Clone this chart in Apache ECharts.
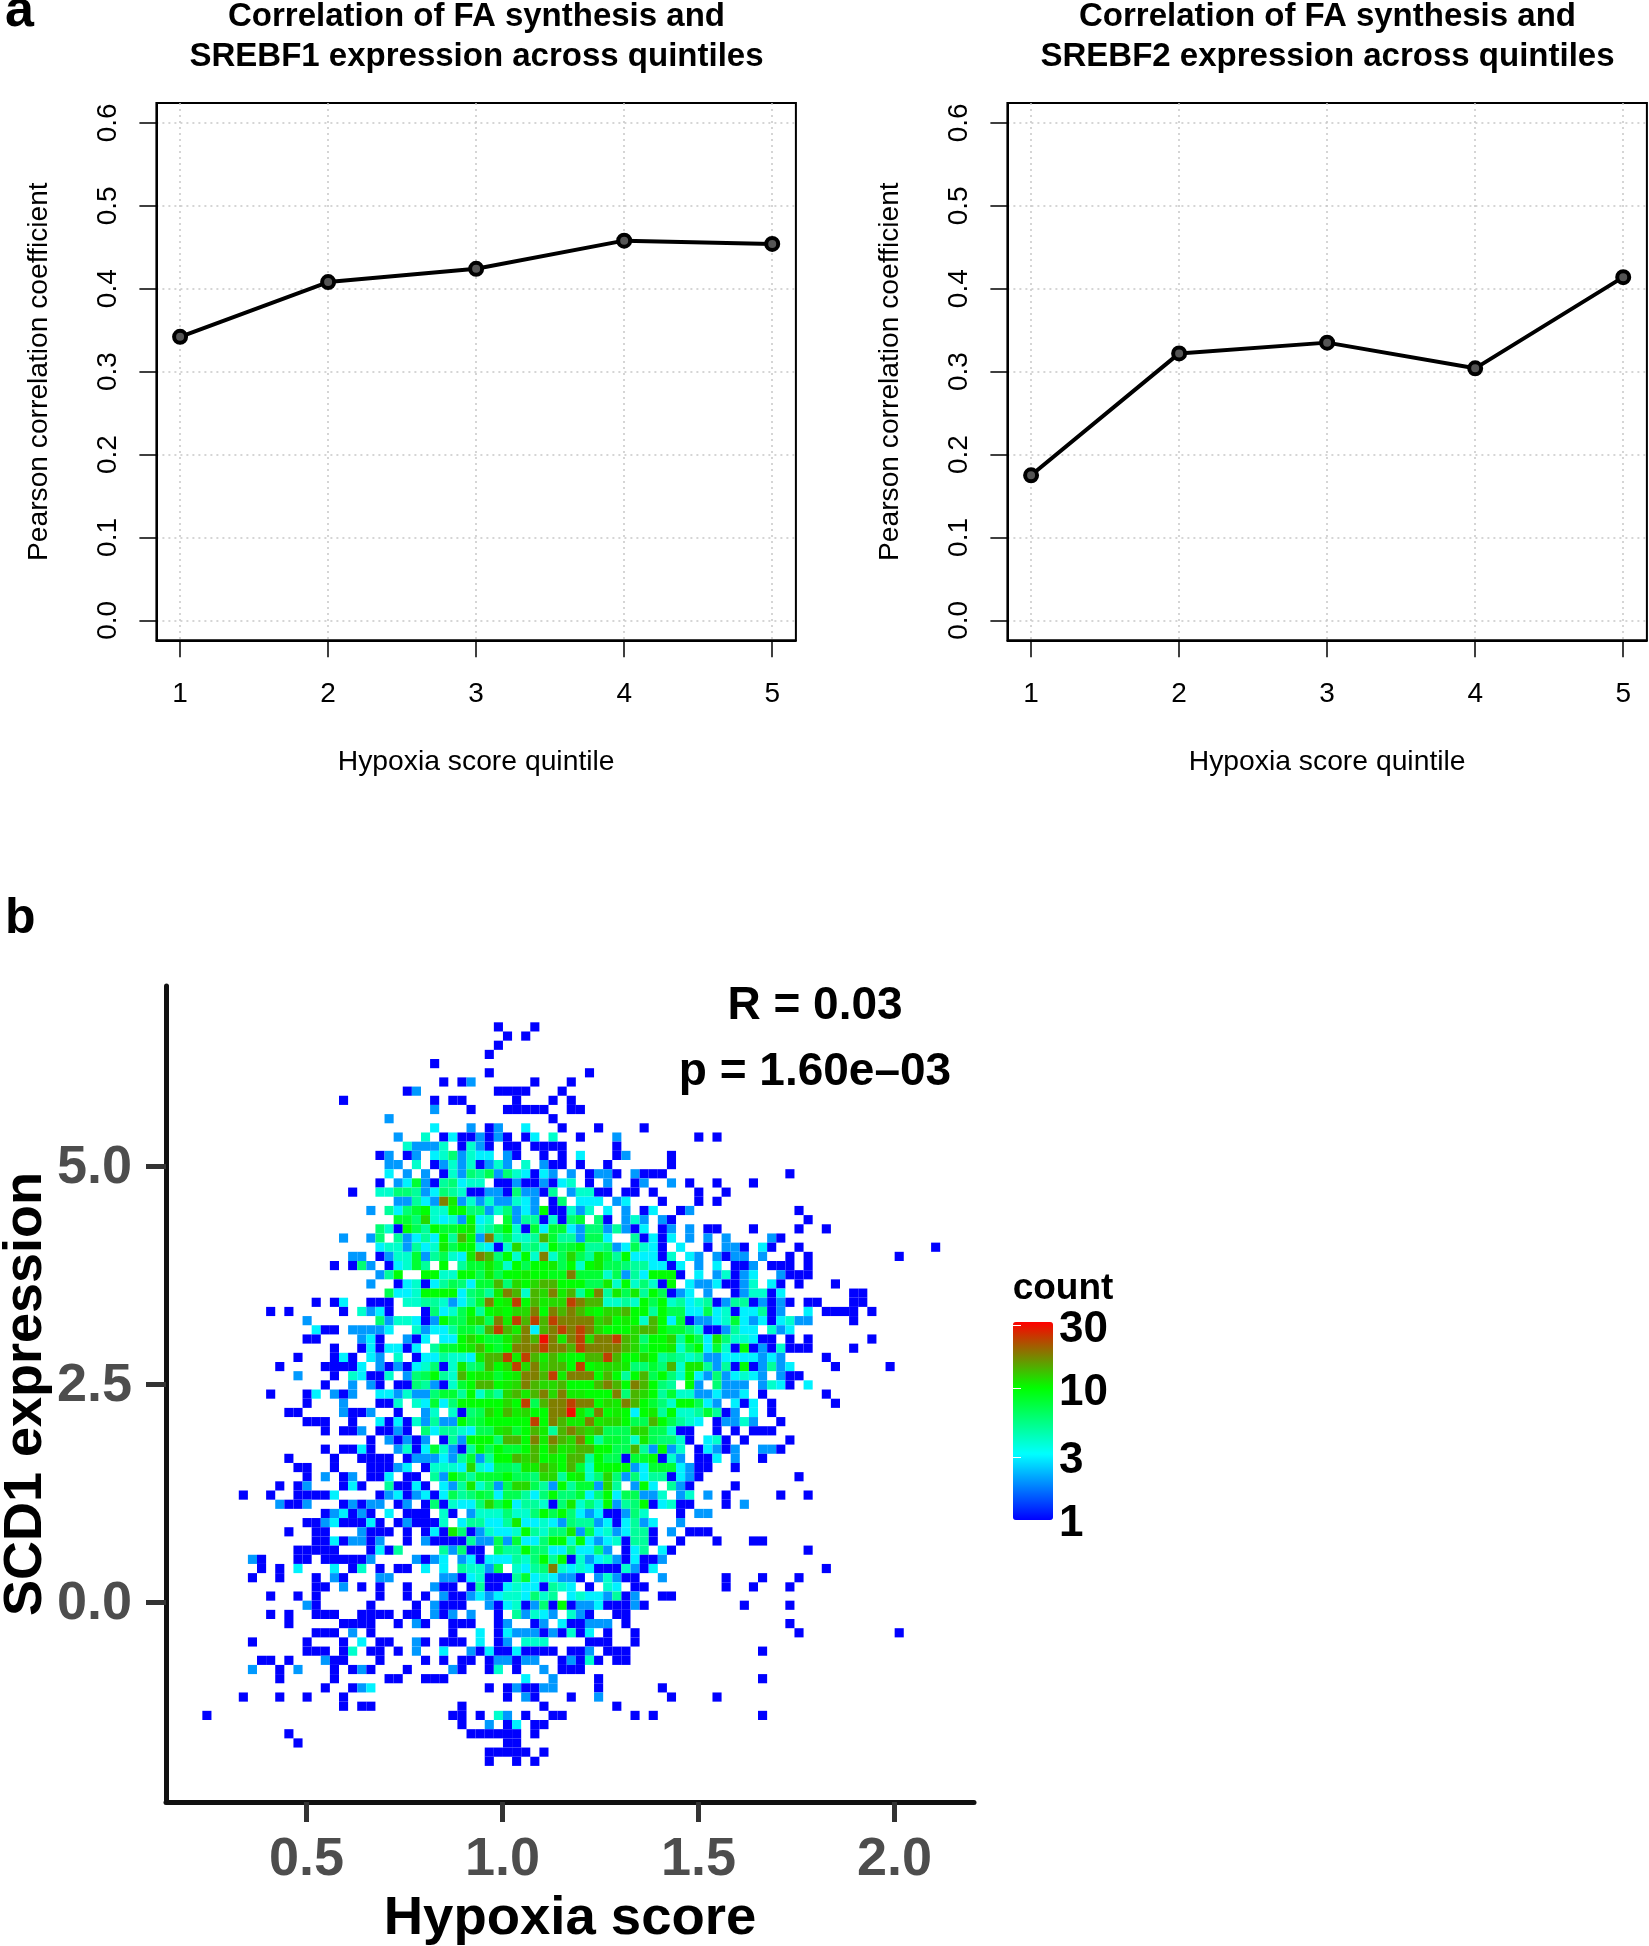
<!DOCTYPE html>
<html>
<head>
<meta charset="utf-8">
<style>html,body{margin:0;padding:0;background:#fff}#c{width:1649px;height:1946px}</style>
<script src="https://cdn.jsdelivr.net/npm/echarts@6/dist/echarts.min.js"></script>
</head>
<body>
<div id="c"></div>
<script>
var quintiles = [1, 2, 3, 4, 5];
var srebf1 = [0.342, 0.408, 0.424, 0.458, 0.454];
var srebf2 = [0.175, 0.322, 0.335, 0.304, 0.414];
var corrTicks = [0, 0.1, 0.2, 0.3, 0.4, 0.5, 0.6];
var hypoxiaTicks = [0.5, 1.0, 1.5, 2.0];
var scd1Ticks = [0, 2.5, 5];
var countTicks = [1, 3, 10, 30];
var countMax = 32;
// 2-D histogram bins: hypoxia score bin = xStart + k * xStep, SCD1 bin = yStart - r * yStep
var xStart = 0.153, xStep = 0.02324, yStart = 6.595, yStep = 0.10528;
var countCodes = {a:10, b:11, c:12, d:14, e:18, f:24, g:30};
// one string per row of bins, top to bottom: "firstBin:counts", "." = empty bin
var histogramRows = [
"36:1 40:1",
"37:1 39:1",
"36:1",
"35:1",
"29:1",
"35:1 46:1",
"30:1 32:12 40:1 44:1",
"26:12 36:1111 43:1",
"19:1 29:1 31:11 38:1 42:1 44:1",
"29:2 33:1 37:1111 41:1 44:11",
"24:2 42:1",
"29:3 33:2 35:12 39:3 43:1 47:1 52:1",
"25:2 28:4.13112121.13 42:4 45:1 49:2 58:1 60:1",
"26:42224.1421.11.1 41:111 49:1",
"23:12.12.3462433.21 41:1 43:1 45:3 49:1 50:2 55:1",
"24:22.4.124241242.4 41:211 45:1 48:1 55:1",
"24:3.2.2.14265726431 41:32 44:2 46:1 47:22 49:1 51:2111 68:1",
"23:1.2382156344.11211 41:2134 46:1 48:2 51:12 55:2 57:1 60:1 64:1",
"20:1 23:446652365411221622 41:15 44:244 47:11 50:11 53:1 58:1 61:1",
"25:22532eb242422432 42:16 45:333 49:23 54:1 58:1 60:1",
"22:2.5368a44aa66246232 41:a11424 48:3 50:2 52:13 56:12 69:1",
"25:886c4342a34.8255 41:14168.61 50:242 54:21 70:1",
"23:641a75a88ab457a418 41:388326625213 54:12 57:2 59:11 64:1 69:1 72:1",
"19:2 22:26.52353a5da2e57445 41:d8552773..51313.2.2.2 66:21",
"23:3442534b7aa4314c56 41:4a78a556237431.3..1.221.31 69:1 84:1",
"20:22 23:1244825743bed6a4a4 41:e47c75b85a33314.32.2122.2 68:1 70:1 80:1",
"18:1 20:162 24:13485.a.588b84a7a 41:ab7a4ab776553313.2.3.112.111.1",
"23:25a..aa44aa7b7aaba 41:a99e88847253aaa1.3.24123..2111",
"22:2 25:13413576388d6cac 41:ddaaa77b4a4641a.32231124.31.1 73:1",
"24:7334aaaa3675bed4d 41:cebd5ae5b7b5a7123.2..124413 75:11",
"16:1 18:13 22:111 26:445542358eabfad 41:bccfedd4454a7a45345125512121.11 75:11",
"11:1 13:1 19:1 21:4231 28:16347a5abacce 41:aededbaccdaa5a7733734133512 70:3 72:1111 77:1",
"15:2 23:6244312a77bc7ebfdf 41:dfeeeecdaba4da3812234832313422 75:1",
"16:311 20:22223 27:42335886dfdbe3 41:defefecaaacdda8864112533.423",
"15:11 21:231 26:213.33aca88bded 41:gebefceefdc6aac5a73b644311.1.1 77:1",
"18:1 21:1313313.588abda8aeee 41:feedfeeeedc8aab47a3841a1214111 75:1",
"14:1 18:131 22:32.4.1335443bddfbfd 41:bdbaaddfdaaca56545223333232 72:1",
"12:1 17:11113.212134614b67dacfce 41:cddafabccb6686d4bb5251a12523 73:1 79:1",
"14:2 18:1 20:43114.267a54dabb8abee 41:dfbeeeada5ad7a64a32623432.211",
"17:1 20:2.21.11652148addabced 41:ccdaaadedaeda65.a2.6222.2431.3",
"11:1 15:13.212 23:3324226885a475cdbd 41:ecebbaaae6dca5844223223.1 72:1",
"15:1 19:2 23:114.43836aaaaacaf7 41:deefeeacbeda864aa732.313.1 73:1",
"13:11 19:2112 25:1 28:24.4167cadbca 41:aeegb8eaba3ab5a4458512.3.1",
"15:111 20:1 23:313142522a78aaaaaf 41:aedbbebcca77da7543.12242 67:1",
"17:1.112 23:1121.63554377bc8ad 41:b5dedcd777cc77411..1.1.111",
"22:1.21212.152aaa6ddae 41:bedcea58874b76641.341.1 68:1",
"17:1.1131 25:241384215a7a88ad 41:adbcddaa77d52a24.13212..221",
"13:1 18:1 21:1111.1222325825aadcd 41:abadd5a77188a142.113.2..1",
"14:11 18:1 22:11123.14443c43776bb 41:dcad84aaaa238883211..1",
"15:1.2.12.113.11.52a75888a776 41:cc5ab46c6263551321 69:1",
"12:1.12 19:131 24:51131.325b4627cc7 41:52a5882c5.2a3.521 62:1",
"8:1 11:1 14:11113 23:123123137568737753 41:6a66836a377224.24.2 61:1 67:1 70:1",
"12:2112 19:12122.12.1614336c7a355 41:416b464a256a13411 61:1 63:2",
"17:123121.3.111.41.24446446 41:a7a632311264 56:1 58:22",
"15:112311131.121114.355335b33 41:4326552313523 56:2",
"13:1 16:11 21:2111.1.131b6124334a5 41:466b273423551.2.111",
"16:11312212 26:1.2111152272833 41:6aa4a32341551 56:1 60:1 64:11",
"14:11111 22:1315 30:52611.755a6 41:63363362.135.31 70:1",
"9:21 14:11.111112 27:2123.231333546 41:a5a14234213112",
"10:1.1.3 18:3.14.1.11.3.3.54427.435 41:6e43431114213 72:1",
"9:1 12:1 16:1.21 23:22 30:22134111583 41:43221.24211 54:2 61:1 65:1 69:1",
"16:11.2.1.1 26:1 29:211.15113433 41:1543.1.43.11 61:1 64:1 68:1",
"11:1 14:1 16:1 23:1 26:1 28:1.21123234436 41:45.34332512 54:11",
"15:21 22:1 27:1.2111 35:213412 41:61a122311121 63:1 68:1",
"11:1.1 16:111 21:1111.11.212.2 36:1.524 41:32.421..11",
"13:1 19:1111 25:1.21 31:111 36:12 40:1 41:2.311222.1 68:1",
"16:111.2.1 31:1 34:3.13222 41:121413.1..1 69:1 80:1",
"9:1 15:1 19:1.3.11 27:21.111.3.12.44 41:4 46:111 51:1",
"15:111.14.11.1.2 30:3 33:21311311 41:11.112.111 65:1",
"10:11.1 17:211 23:1 28:1.1.11.122122 43:12141.11",
"9:2 12:1.2 18:1.121 26:1 31:21 35:14.1 41:2 43:111",
"12:1 18:1 24:11 28:111 39:3 42:2 47:1 65:1",
"17:1 20:123 35:1.1211 41:22 47:1 54:1",
"8:1 12:1 15:1 19:1 37:1.21 44:1 47:2 55:1 60:1",
"19:1 21:11 32:1 41:1 49:1",
"4:1 31:11 34:1.42.1 42:11 51:1 53:1 65:1",
"32:1 35:2.13.1 41:1",
"13:1 33:111111.1",
"14:1 37:11",
"35:11111.1",
"35:1..1.1"
];

function decodeCells() {
  var out = [];
  histogramRows.forEach(function (row, r) {
    row.split(' ').forEach(function (tok) {
      var p = tok.split(':'), k0 = +p[0];
      p[1].split('').forEach(function (ch, i) {
        if (ch === '.') return;
        var n = countCodes[ch] || +ch;
        out.push([xStart + (k0 + i) * xStep, yStart - r * yStep, n, Math.log10(n)]);
      });
    });
  });
  return out;
}

var FONT = '"Liberation Sans", Arial, Helvetica, sans-serif';

function rGrid(left) {
  return { left: left, top: 103, width: 639.5, height: 537.3, show: true, borderColor: '#000', borderWidth: 2, backgroundColor: 'transparent', outerBoundsMode: 'none' };
}
var dotted = { show: true, lineStyle: { color: '#c8c8c8', type: [2, 4], width: 1.5 } };
function rX(i) {
  return { gridIndex: i, type: 'value', min: 0.84, max: 5.16, name: 'Hypoxia score quintile', nameLocation: 'middle', nameGap: 108,
    nameTextStyle: { fontFamily: FONT, fontSize: 28.3, color: '#000' },
    axisLine: { show: true, onZero: false, lineStyle: { color: '#000', width: 2 } },
    axisTick: { show: true, length: 17, customValues: quintiles, lineStyle: { color: '#000', width: 1.5 } },
    axisLabel: { show: true, customValues: quintiles, margin: 40, fontFamily: FONT, fontSize: 28, color: '#000', formatter: function (v) { return String(v); } },
    splitLine: dotted };
}
function rY(i) {
  return { gridIndex: i, type: 'value', min: -0.024, max: 0.624, name: 'Pearson correlation coefficient', nameLocation: 'middle', nameGap: 103,
    nameTextStyle: { fontFamily: FONT, fontSize: 28.2, color: '#000' },
    axisLine: { show: true, onZero: false, lineStyle: { color: '#000', width: 2 } },
    axisTick: { show: true, length: 17, customValues: corrTicks, lineStyle: { color: '#000', width: 1.5 } },
    axisLabel: { show: true, customValues: corrTicks, rotate: 90, margin: 34, fontFamily: FONT, fontSize: 28, color: '#000', formatter: function (v) { return v.toFixed(1); } },
    splitLine: dotted };
}
function lineSeries(i, values) {
  return { type: 'line', xAxisIndex: i, yAxisIndex: i, z: 5, symbol: 'circle', symbolSize: 12,
    data: quintiles.map(function (q, j) { return [q, values[j]]; }),
    lineStyle: { color: '#000', width: 4 },
    itemStyle: { color: '#555', borderColor: '#000', borderWidth: 4 } };
}
function bold(text, x, y, size, align) {
  return { type: 'text', z: 20, style: { text: text, x: x, y: y, fill: '#000', textAlign: align || 'center', textVerticalAlign: 'middle', font: 'bold ' + size + 'px ' + FONT } };
}

var cbMax = Math.log10(countMax);
var cbTicks = countTicks.map(function (v) { return Math.log10(v); });
var option = {
  animation: false,
  backgroundColor: '#fff',
  grid: [rGrid(156.4), rGrid(1007.4),
    { left: 166, top: 986, width: 808, height: 816, outerBoundsMode: 'none' },
    { left: 1013, top: 1322, width: 40, height: 198, outerBoundsMode: 'none' }],
  xAxis: [rX(0), rX(1),
    { gridIndex: 2, type: 'value', min: 0.1416, max: 2.203, name: 'Hypoxia score', nameLocation: 'middle', nameGap: 89,
      nameTextStyle: { fontFamily: FONT, fontSize: 54.5, fontWeight: 'bold', color: '#000' },
      axisLine: { show: true, onZero: false, lineStyle: { color: '#111', width: 5 } },
      axisTick: { show: true, length: 20, customValues: hypoxiaTicks, lineStyle: { color: '#333', width: 5 } },
      axisLabel: { show: true, customValues: hypoxiaTicks, margin: 31, fontFamily: FONT, fontSize: 54, fontWeight: 'bold', color: '#4d4d4d', formatter: function (v) { return v.toFixed(1); } },
      splitLine: { show: false } },
    { gridIndex: 3, type: 'value', min: 0, max: 1, show: false }],
  yAxis: [rY(0), rY(1),
    { gridIndex: 2, type: 'value', min: -2.294, max: 7.064, name: 'SCD1 expression', nameLocation: 'middle', nameGap: 111,
      nameTextStyle: { fontFamily: FONT, fontSize: 54, fontWeight: 'bold', color: '#000' },
      axisLine: { show: true, onZero: false, lineStyle: { color: '#111', width: 5 } },
      axisTick: { show: true, length: 20, customValues: scd1Ticks, lineStyle: { color: '#333', width: 5 } },
      axisLabel: { show: true, customValues: scd1Ticks, margin: 34, fontFamily: FONT, fontSize: 54, fontWeight: 'bold', color: '#4d4d4d',
        formatter: function (v) { return '{t|' + v.toFixed(1) + '}'; },
        rich: { t: { fontFamily: FONT, fontSize: 54, fontWeight: 'bold', color: '#4d4d4d', padding: [5, 0, 0, 0] } } },
      splitLine: { show: false } },
    { gridIndex: 3, type: 'value', min: 0, max: cbMax, position: 'right', z: 10,
      axisLine: { show: false },
      axisTick: { show: true, inside: true, length: 8, customValues: cbTicks, lineStyle: { color: '#fff', width: 1 } },
      axisLabel: { show: true, inside: false, customValues: cbTicks, margin: 6, fontFamily: FONT, fontSize: 44, fontWeight: 'bold', color: '#000',
        formatter: function (v) { return '{t|' + Math.round(Math.pow(10, v)) + '}'; },
        rich: { t: { fontFamily: FONT, fontSize: 44, fontWeight: 'bold', color: '#000', padding: [8, 0, 0, 0] } } },
      splitLine: { show: false } },
    { gridIndex: 3, type: 'value', min: 0, max: cbMax, position: 'left', z: 10,
      axisLine: { show: false },
      axisTick: { show: true, inside: true, length: 8, customValues: cbTicks, lineStyle: { color: '#fff', width: 1 } },
      axisLabel: { show: false }, splitLine: { show: false } }],
  visualMap: { type: 'continuous', seriesIndex: 2, dimension: 3, min: 0, max: cbMax, left: 1013, top: 1322, itemWidth: 40, itemHeight: 198, padding: 0,
    text: [], showLabel: false, calculable: false, hoverLink: false, realtime: false, inRange: { color: ['#0000ff', '#00ffff', '#00ff00', '#ff0000'] } },
  series: [lineSeries(0, srebf1), lineSeries(1, srebf2),
    { type: 'scatter', xAxisIndex: 2, yAxisIndex: 2, symbol: 'rect', symbolSize: [9.11, 9.18], data: decodeCells(), progressive: 0, large: false, itemStyle: { opacity: 1 }, emphasis: { disabled: true } }],
  graphic: [
    bold('a', 5, 12, 52, 'left'),
    bold('b', 5, 919, 50, 'left'),
    bold('Correlation of FA synthesis and', 476.5, 17, 33),
    bold('SREBF1 expression across quintiles', 476.5, 57, 33),
    bold('Correlation of FA synthesis and', 1327.5, 17, 33),
    bold('SREBF2 expression across quintiles', 1327.5, 57, 33),
    bold('R = 0.03', 815, 1006.5, 46),
    bold('p = 1.60e\u201303', 815, 1072.5, 46),
    bold('count', 1063, 1289, 37)
  ]
};
var chart = echarts.init(document.getElementById('c'), null, { renderer: 'canvas' });
chart.setOption(option);
</script>
</body>
</html>
